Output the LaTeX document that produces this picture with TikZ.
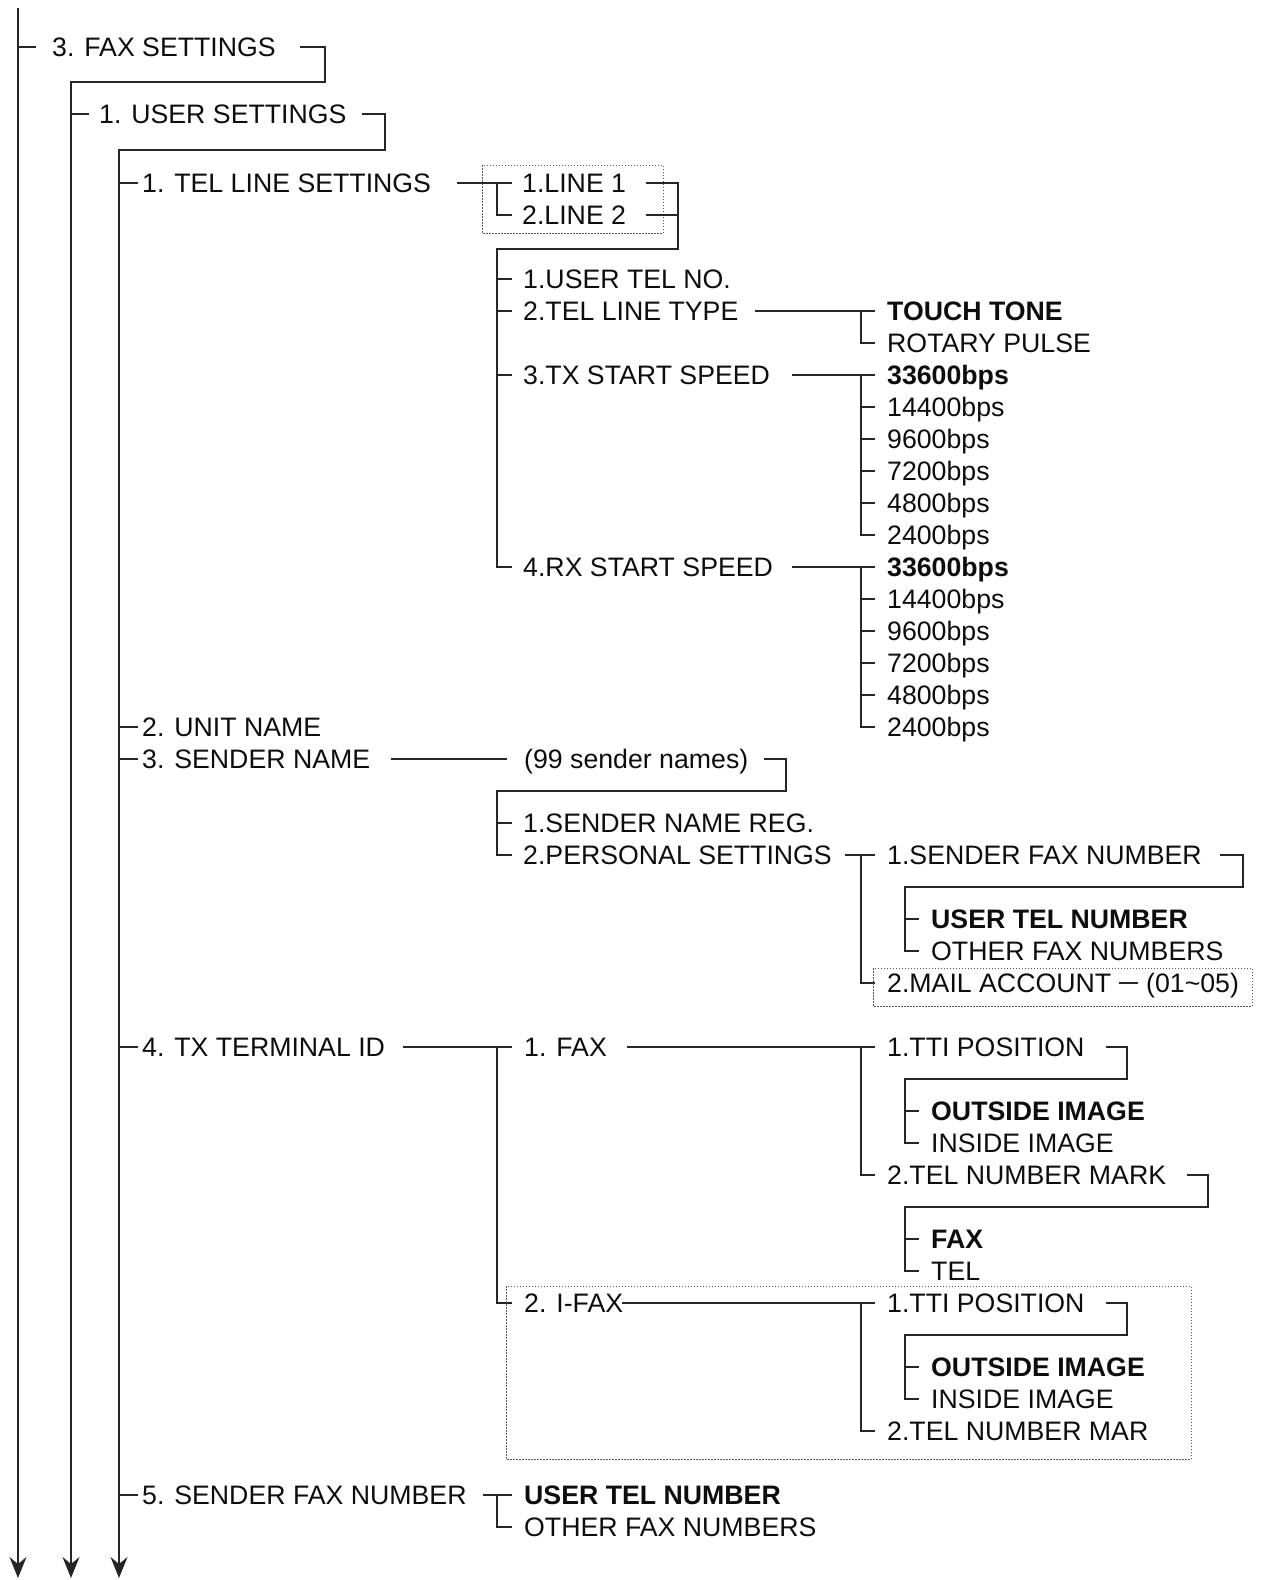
\documentclass[tikz,border=0pt]{standalone}
\usepackage{fontspec}
\setmainfont{Liberation Sans}
\usetikzlibrary{arrows.meta}
\begin{document}
\begin{tikzpicture}[x=1pt,y=-1pt,
  t/.style={anchor=west, inner sep=0pt, text height=19.1pt, text depth=0pt,
            font=\fontsize{26.7}{31}\selectfont, text=black!95},
  tb/.style={t, font=\fontsize{26.7}{31}\selectfont\bfseries},
  ln/.style={line width=1.15pt, draw=black!85},
  dotbox/.style={line width=1pt, draw=black!65, dash pattern=on 1.5pt off 1.5pt},
  arr/.style={ln, -{Stealth[length=21pt,width=17pt,inset=7pt]}}]
\useasboundingbox (0,0) rectangle (1263,1580);
% ---------- texts ----------
\node[t] (fax)  at (52,47)   {3. FAX SETTINGS};
\node[t] (usr)  at (99,114)  {1. USER SETTINGS};
\node[t] (tls)  at (142,183) {1. TEL LINE SETTINGS};
\node[t] (l1)   at (522,183) {1.LINE 1};
\node[t] (l2)   at (522,215) {2.LINE 2};
\node[t] (d1)   at (523,279) {1.USER TEL NO.};
\node[t] (d2)   at (523,311) {2.TEL LINE TYPE};
\node[t] (d3)   at (523,375) {3.TX START SPEED};
\node[t] (d4)   at (523,567) {4.RX START SPEED};
\node[tb] (tt)  at (887,311) {TOUCH TONE};
\node[t] (rp)   at (887,343) {ROTARY PULSE};
\node[tb] (tx1) at (887,375) {33600bps};
\node[t] (tx2)  at (887,407) {14400bps};
\node[t] (tx3)  at (887,439) {9600bps};
\node[t] (tx4)  at (887,471) {7200bps};
\node[t] (tx5)  at (887,503) {4800bps};
\node[t] (tx6)  at (887,535) {2400bps};
\node[tb] (rx1) at (887,567) {33600bps};
\node[t] (rx2)  at (887,599) {14400bps};
\node[t] (rx3)  at (887,631) {9600bps};
\node[t] (rx4)  at (887,663) {7200bps};
\node[t] (rx5)  at (887,695) {4800bps};
\node[t] (rx6)  at (887,727) {2400bps};
\node[t] (un)   at (142,727) {2. UNIT NAME};
\node[t] (sn)   at (142,759) {3. SENDER NAME};
\node[t] (sn99) at (524,759) {(99 sender names)};
\node[t] (snr)  at (523,823) {1.SENDER NAME REG.};
\node[t] (ps)   at (523,855) {2.PERSONAL SETTINGS};
\node[t] (sfn)  at (887,855) {1.SENDER FAX NUMBER};
\node[tb] (utn) at (931,919) {USER TEL NUMBER};
\node[t] (ofn)  at (931,951) {OTHER FAX NUMBERS};
\node[t] (ma)   at (887,983) {2.MAIL ACCOUNT};
\node[t] (rng)  at (1146,983) {(01\char`\~05)};
\node[t] (tid)  at (142,1047) {4. TX TERMINAL ID};
\node[t] (f1)   at (524,1047) {1. FAX};
\node[t] (tti1) at (887,1047) {1.TTI POSITION};
\node[tb] (oi1) at (931,1111) {OUTSIDE IMAGE};
\node[t] (ii1)  at (931,1143) {INSIDE IMAGE};
\node[t] (tnm)  at (887,1175) {2.TEL NUMBER MARK};
\node[tb] (fxb) at (931,1239) {FAX};
\node[t] (tel)  at (931,1271) {TEL};
\node[t] (ifx)  at (524,1303) {2. I-FAX};
\node[t] (tti2) at (887,1303) {1.TTI POSITION};
\node[tb] (oi2) at (931,1367) {OUTSIDE IMAGE};
\node[t] (ii2)  at (931,1399) {INSIDE IMAGE};
\node[t] (tnm2) at (887,1431) {2.TEL NUMBER MAR};
\node[t] (sf5)  at (142,1495) {5. SENDER FAX NUMBER};
\node[tb] (ut5) at (524,1495) {USER TEL NUMBER};
\node[t] (of5)  at (524,1527) {OTHER FAX NUMBERS};
% ---------- main trunks ----------
\draw[arr] (18,8) -- (18,1578);
\draw[ln] (18,47) -- (36,47);
\draw[arr] (300,47) -| (325,82) -| (71,1578);
\draw[ln] (71,114) -- (89,114);
\draw[arr] (362,114) -| (385,150) -| (119,1578);
\foreach \yy in {183,727,759,1047,1495} \draw[ln] (119,\yy) -- (138,\yy);
% ---------- tel line ----------
\draw[dotbox] (482,165) rectangle (663,233);
\draw[ln] (457,183) -- (512,183);
\draw[ln] (497,183) |- (512,215);
\draw[ln] (646,183) -| (678,249) -| (497,567) -- (512,567);
\draw[ln] (646,215) -- (678,215);
\foreach \yy in {279,311,375} \draw[ln] (497,\yy) -- (512,\yy);
\draw[ln] (755,311) -- (875,311);
\draw[ln] (861,311) |- (875,343);
\draw[ln] (792,375) -- (875,375);
\draw[ln] (861,375) |- (875,535);
\foreach \yy in {407,439,471,503} \draw[ln] (861,\yy) -- (875,\yy);
\draw[ln] (792,567) -- (875,567);
\draw[ln] (861,567) |- (875,727);
\foreach \yy in {599,631,663,695} \draw[ln] (861,\yy) -- (875,\yy);
% ---------- sender name ----------
\draw[ln] (391,759) -- (507,759);
\draw[ln] (764,759) -| (786,791) -| (497,855) -- (512,855);
\draw[ln] (497,823) -- (512,823);
\draw[ln] (845,855) -- (875,855);
\draw[ln] (861,855) |- (875,983);
\draw[ln] (1220,855) -| (1243,887) -| (905,951) -- (919,951);
\draw[ln] (905,919) -- (919,919);
\draw[ln] (1119,983) -- (1138,983);
\draw[dotbox] (873,968) rectangle (1252,1006);
% ---------- tx terminal id ----------
\draw[ln] (403,1047) -- (512,1047);
\draw[ln] (497,1047) |- (512,1303);
\draw[ln] (627,1047) -- (875,1047);
\draw[ln] (861,1047) |- (875,1175);
\draw[ln] (1106,1047) -| (1127,1079) -| (905,1143) -- (919,1143);
\draw[ln] (905,1111) -- (919,1111);
\draw[ln] (1187,1175) -| (1208,1207) -| (905,1271) -- (919,1271);
\draw[ln] (905,1239) -- (919,1239);
\draw[ln] (622,1303) -- (875,1303);
\draw[ln] (861,1303) |- (875,1431);
\draw[ln] (1106,1303) -| (1127,1335) -| (905,1399) -- (919,1399);
\draw[ln] (905,1367) -- (919,1367);
\draw[dotbox] (506,1286) rectangle (1191,1459);
% ---------- sender fax number ----------
\draw[ln] (483,1495) -- (512,1495);
\draw[ln] (497,1495) |- (512,1527);
\end{tikzpicture}
\end{document}
